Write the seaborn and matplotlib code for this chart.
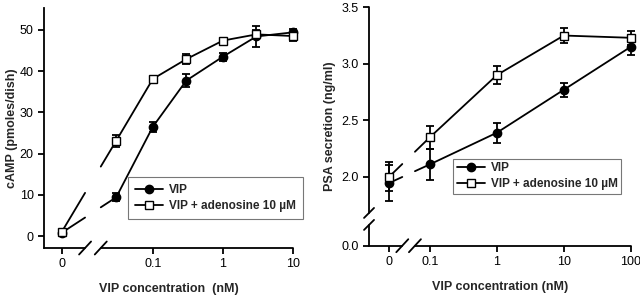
import numpy as np
import pandas as pd
import matplotlib
matplotlib.use('Agg')
import matplotlib.pyplot as plt
import seaborn as sns

# data
conc_a = [0, 0.03, 0.1, 0.3, 1, 3, 10]
vip_camp = [0.8, 9.4, 26.5, 37.7, 43.5, 48.4, 49.4]
vip_camp_err = [0.5, 1.0, 1.2, 1.5, 1.0, 2.5, 0.9]
ado_camp = [1.0, 23.1, 38.1, 42.9, 47.4, 48.9, 48.5]
ado_camp_err = [0.5, 1.5, 0.5, 1.3, 0.6, 1.0, 1.1]

conc_b = [0, 0.1, 1, 10, 100]
vip_psa = [1.945, 2.11, 2.39, 2.77, 3.15]
vip_psa_err = [0.155, 0.135, 0.09, 0.06, 0.07]
ado_psa = [2.0, 2.35, 2.90, 3.25, 3.23]
ado_psa_err = [0.13, 0.10, 0.08, 0.07, 0.06]

lab_vip = 'VIP'
lab_ado = 'VIP + adenosine 10 \u00b5M'

sns.set_style('ticks')
plt.rcParams['font.family'] = ['Liberation Sans', 'DejaVu Sans']
plt.rcParams['font.size'] = 9
plt.rcParams['axes.linewidth'] = 1.3
plt.rcParams['xtick.major.width'] = 1.3
plt.rcParams['ytick.major.width'] = 1.3
plt.rcParams['xtick.major.size'] = 4
plt.rcParams['ytick.major.size'] = 4
plt.rcParams['xtick.color'] = 'black'
plt.rcParams['ytick.color'] = 'black'
plt.rcParams['axes.edgecolor'] = 'black'

fig = plt.figure(figsize=(6.4, 2.95), dpi=100)
ax1 = fig.add_axes([0.06875, 0.1593, 0.3891, 0.8136])
ax2 = fig.add_axes([0.5766, 0.1671, 0.4089, 0.8082])


def xpos(c, zero):
    return np.array([np.log10(v) if v > 0 else zero for v in c])


def to_data(ax, x, y, dx, dy):
    # offset a data point by pixels
    px, py = ax.transData.transform((x, y))
    return ax.transData.inverted().transform((px + dx, py + dy))


def broken_seg(ax, x0, y0, x1, y1, g0, g1):
    # segment from the zero point to the first dose, with a gap at the break
    ya = y0 + (y1 - y0) * (g0 - x0) / (x1 - x0)
    yb = y0 + (y1 - y0) * (g1 - x0) / (x1 - x0)
    ax.plot([x0, g0], [y0, ya], color='black', lw=1.3, zorder=3)
    ax.plot([g1, x1], [yb, y1], color='black', lw=1.3, zorder=3)


def slash(ax, x, y, hw, hh):
    a = to_data(ax, x, y, -hw, -hh)
    b = to_data(ax, x, y, hw, hh)
    ax.plot([a[0], b[0]], [a[1], b[1]], color='black', lw=1.3, clip_on=False, zorder=5)


def panel(ax, conc, zero, series, gap, xlim, ylim):
    ax.set_xlim(*xlim)
    ax.set_ylim(*ylim)
    x = xpos(conc, zero)
    for vals, err, mk, fc, lab in series:
        ax.errorbar(x, vals, yerr=err, fmt='none', ecolor='black', elinewidth=1.3,
                    capsize=3, capthick=1.3, zorder=2, clip_on=False)
        sns.lineplot(x=x[1:], y=vals[1:], ax=ax, color='black', lw=1.3, marker=mk,
                     markersize=6, markerfacecolor=fc, markeredgecolor='black',
                     markeredgewidth=1.0, label=lab, zorder=4, clip_on=False)
        ax.plot([x[0]], [vals[0]], marker=mk, ms=6, mfc=fc, mec='black', mew=1.0,
                ls='none', zorder=4, clip_on=False)
        broken_seg(ax, x[0], vals[0], x[1], vals[1], gap[0], gap[1])
    # x axis drawn by hand with a break
    ax.spines['bottom'].set_visible(False)
    ax.spines['top'].set_visible(False)
    ax.spines['right'].set_visible(False)
    y0 = ylim[0]
    ax.plot([xlim[0], gap[0]], [y0, y0], color='black', lw=1.3, clip_on=False, zorder=5)
    ax.plot([gap[1], xlim[1]], [y0, y0], color='black', lw=1.3, clip_on=False, zorder=5)
    slash(ax, gap[0], y0, 6, 6.5)
    slash(ax, gap[1], y0, 6, 6.5)


# left panel: cAMP
panel(ax1, conc_a, -2.3,
      [(vip_camp, vip_camp_err, 'o', 'black', lab_vip),
       (ado_camp, ado_camp_err, 's', 'white', lab_ado)],
      (-1.967, -1.743), (-2.553, 1.0), (-2.9, 55.3))
ax1.set_xticks(xpos(conc_a[:1], -2.3).tolist() + [-1, 0, 1])
ax1.set_xticklabels(['0', '0.1', '1', '10'])
ax1.set_yticks([0, 10, 20, 30, 40, 50])
ax1.set_xlabel('VIP concentration  (nM)', fontweight='bold', labelpad=9)
ax1.set_ylabel('cAMP (pmoles/dish)', fontweight='bold')
ax1.yaxis.set_label_coords(-0.104, 0.5)

# right panel: PSA, y axis broken below 2.0
y_zero = 1.39
panel(ax2, conc_b, -1.61,
      [(vip_psa, vip_psa_err, 'o', 'black', lab_vip),
       (ado_psa, ado_psa_err, 's', 'white', lab_ado)],
      (-1.413, -1.224), (-1.91, 2.0), (y_zero, 3.5))
ax2.set_xticks([-1.61, -1, 0, 1, 2])
ax2.set_xticklabels(['0', '0.1', '1', '10', '100'])
ax2.set_yticks([y_zero, 2.0, 2.5, 3.0, 3.5])
ax2.set_yticklabels(['0.0', '2.0', '2.5', '3.0', '3.5'])
ax2.spines['left'].set_visible(False)
yb0, yb1 = 1.68, 1.574
ax2.plot([-1.91, -1.91], [3.5, yb0], color='black', lw=1.3, clip_on=False, zorder=5)
ax2.plot([-1.91, -1.91], [yb1, y_zero], color='black', lw=1.3, clip_on=False, zorder=5)
slash(ax2, -1.91, yb0, 5, 5)
slash(ax2, -1.91, yb1, 5, 5)
ax2.set_xlabel('VIP concentration (nM)', fontweight='bold', labelpad=9)
ax2.set_ylabel('PSA secretion (ng/ml)', fontweight='bold', labelpad=4)

for ax, anchor, sp, bp in [(ax1, (0.337, 0.296), 0.35, 0.6), (ax2, (0.321, 0.364), 0.3, 0.3)]:
    leg = ax.legend(loc='upper left', bbox_to_anchor=anchor, frameon=True, fancybox=False,
                    handlelength=2.4, handletextpad=0.5, labelspacing=sp,
                    borderpad=bp, borderaxespad=0, prop={'weight': 'bold', 'size': 8.5})
    leg.get_frame().set_edgecolor('#555555')
    leg.get_frame().set_linewidth(0.8)

fig.savefig('out.png', dpi=100)
